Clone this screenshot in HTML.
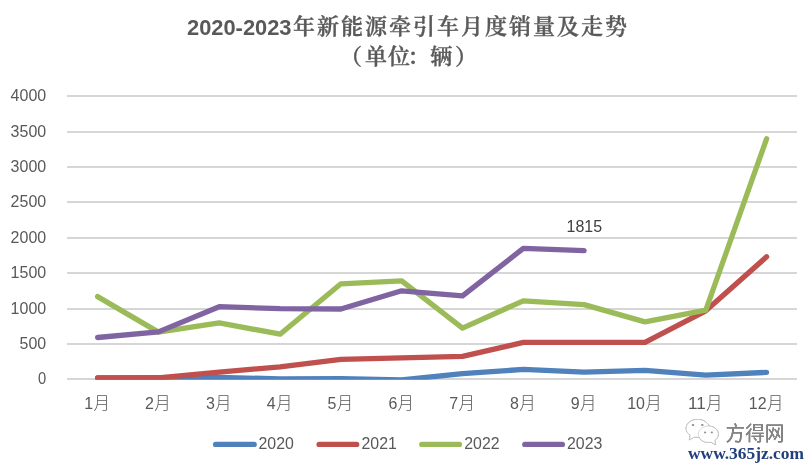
<!DOCTYPE html>
<html lang="zh"><head><meta charset="utf-8"><title>2020-2023年新能源牵引车月度销量及走势</title>
<style>
html,body{margin:0;padding:0;background:#fff;}
body{width:811px;height:469px;overflow:hidden;}
svg{display:block}
text{font-family:"Liberation Sans","Noto Sans CJK SC",sans-serif;fill:#595959}
.ax{font-size:15.7px}
.cj{font-family:"Liberation Sans","Noto Sans CJK SC",sans-serif;font-size:16.5px;font-weight:300}
.tl{font-family:"Liberation Sans",sans-serif;font-weight:bold;font-size:21.5px}
.tc{font-family:"Liberation Serif","Noto Serif CJK SC",serif;font-weight:600;font-size:22px;letter-spacing:2px;stroke:#595959;stroke-width:0.35px}
</style></head><body>
<svg width="811" height="469" viewBox="0 0 811 469">
<rect width="811" height="469" fill="#fff"/>
<text class="tl" x="187" y="34.8" textLength="104.5" lengthAdjust="spacingAndGlyphs">2020-2023</text>
<text class="tc" x="293" y="34">年新能源牵引车月度销量及走势</text>
<text class="tc" y="63.6" x="340 365 388 407.5 430.3 455">（单位：辆）</text>
<rect x="67" y="378" width="730" height="2" fill="#D6D6D6"/>
<text class="ax" x="38.0" y="384.2" textLength="8.2" lengthAdjust="spacingAndGlyphs">0</text>
<rect x="67" y="343" width="730" height="2" fill="#D6D6D6"/>
<text class="ax" x="19.6" y="349.2" textLength="26.6" lengthAdjust="spacingAndGlyphs">500</text>
<rect x="67" y="308" width="730" height="2" fill="#D6D6D6"/>
<text class="ax" x="10.6" y="314.2" textLength="35.6" lengthAdjust="spacingAndGlyphs">1000</text>
<rect x="67" y="272" width="730" height="2" fill="#D6D6D6"/>
<text class="ax" x="10.6" y="278.2" textLength="35.6" lengthAdjust="spacingAndGlyphs">1500</text>
<rect x="67" y="237" width="730" height="2" fill="#D6D6D6"/>
<text class="ax" x="10.6" y="243.2" textLength="35.6" lengthAdjust="spacingAndGlyphs">2000</text>
<rect x="67" y="201" width="730" height="2" fill="#D6D6D6"/>
<text class="ax" x="10.6" y="207.2" textLength="35.6" lengthAdjust="spacingAndGlyphs">2500</text>
<rect x="67" y="166" width="730" height="2" fill="#D6D6D6"/>
<text class="ax" x="10.6" y="172.2" textLength="35.6" lengthAdjust="spacingAndGlyphs">3000</text>
<rect x="67" y="131" width="730" height="2" fill="#D6D6D6"/>
<text class="ax" x="10.6" y="137.2" textLength="35.6" lengthAdjust="spacingAndGlyphs">3500</text>
<rect x="67" y="95" width="730" height="2" fill="#D6D6D6"/>
<text class="ax" x="10.6" y="101.2" textLength="35.6" lengthAdjust="spacingAndGlyphs">4000</text>
<clipPath id="pc"><rect x="0" y="0" width="811" height="379.8"/></clipPath><g clip-path="url(#pc)">
<polyline points="97.6,377.9 158.4,377.7 219.2,377.4 280.1,378.9 340.9,378.7 401.7,379.9 462.5,373.7 523.3,369.4 584.1,372.1 645.0,370.4 705.8,375.2 766.6,372.4" fill="none" stroke="#4F81BD" stroke-width="5.3" stroke-linecap="round" stroke-linejoin="round"/>
<polyline points="97.6,377.9 158.4,377.9 219.2,372.1 280.1,366.9 340.9,359.4 401.7,357.8 462.5,356.4 523.3,342.4 584.1,342.4 645.0,342.4 705.8,310.8 766.6,256.8" fill="none" stroke="#C0504D" stroke-width="5.3" stroke-linecap="round" stroke-linejoin="round"/>
<polyline points="97.6,296.6 158.4,332.1 219.2,322.8 280.1,334.2 340.9,283.8 401.7,280.8 462.5,328.1 523.3,300.8 584.1,304.6 645.0,321.9 705.8,310.1 766.6,138.8" fill="none" stroke="#9BBB59" stroke-width="5.3" stroke-linecap="round" stroke-linejoin="round"/>
<polyline points="97.6,337.5 158.4,331.9 219.2,306.7 280.1,308.7 340.9,309.0 401.7,290.8 462.5,295.9 523.3,248.4 584.1,250.7" fill="none" stroke="#8064A2" stroke-width="5.3" stroke-linecap="round" stroke-linejoin="round"/>
</g>
<text class="ax" x="566.5" y="231.9" textLength="35.6" lengthAdjust="spacingAndGlyphs" style="fill:#404040">1815</text>
<text class="ax" x="84.3" y="408.7"><tspan textLength="8.9" lengthAdjust="spacingAndGlyphs">1</tspan><tspan class="cj" dx="0.3">月</tspan></text>
<text class="ax" x="145.1" y="408.7"><tspan textLength="8.9" lengthAdjust="spacingAndGlyphs">2</tspan><tspan class="cj" dx="0.3">月</tspan></text>
<text class="ax" x="205.9" y="408.7"><tspan textLength="8.9" lengthAdjust="spacingAndGlyphs">3</tspan><tspan class="cj" dx="0.3">月</tspan></text>
<text class="ax" x="266.8" y="408.7"><tspan textLength="8.9" lengthAdjust="spacingAndGlyphs">4</tspan><tspan class="cj" dx="0.3">月</tspan></text>
<text class="ax" x="327.6" y="408.7"><tspan textLength="8.9" lengthAdjust="spacingAndGlyphs">5</tspan><tspan class="cj" dx="0.3">月</tspan></text>
<text class="ax" x="388.4" y="408.7"><tspan textLength="8.9" lengthAdjust="spacingAndGlyphs">6</tspan><tspan class="cj" dx="0.3">月</tspan></text>
<text class="ax" x="449.2" y="408.7"><tspan textLength="8.9" lengthAdjust="spacingAndGlyphs">7</tspan><tspan class="cj" dx="0.3">月</tspan></text>
<text class="ax" x="510.0" y="408.7"><tspan textLength="8.9" lengthAdjust="spacingAndGlyphs">8</tspan><tspan class="cj" dx="0.3">月</tspan></text>
<text class="ax" x="570.8" y="408.7"><tspan textLength="8.9" lengthAdjust="spacingAndGlyphs">9</tspan><tspan class="cj" dx="0.3">月</tspan></text>
<text class="ax" x="627.2" y="408.7"><tspan textLength="17.8" lengthAdjust="spacingAndGlyphs">10</tspan><tspan class="cj" dx="0.3">月</tspan></text>
<text class="ax" x="688.0" y="408.7"><tspan textLength="17.8" lengthAdjust="spacingAndGlyphs">11</tspan><tspan class="cj" dx="0.3">月</tspan></text>
<text class="ax" x="748.8" y="408.7"><tspan textLength="17.8" lengthAdjust="spacingAndGlyphs">12</tspan><tspan class="cj" dx="0.3">月</tspan></text>
<line x1="215.6" x2="254.20000000000002" y1="444.45" y2="444.45" stroke="#4F81BD" stroke-width="5.3" stroke-linecap="round"/>
<text class="ax" x="258.5" y="449.1" textLength="35.4" lengthAdjust="spacingAndGlyphs">2020</text>
<line x1="319.1" x2="356.7" y1="444.45" y2="444.45" stroke="#C0504D" stroke-width="5.3" stroke-linecap="round"/>
<text class="ax" x="361.5" y="449.1" textLength="35.4" lengthAdjust="spacingAndGlyphs">2021</text>
<line x1="421.8" x2="459.4" y1="444.45" y2="444.45" stroke="#9BBB59" stroke-width="5.3" stroke-linecap="round"/>
<text class="ax" x="464.2" y="449.1" textLength="35.4" lengthAdjust="spacingAndGlyphs">2022</text>
<line x1="524.8000000000001" x2="562.4" y1="444.45" y2="444.45" stroke="#8064A2" stroke-width="5.3" stroke-linecap="round"/>
<text class="ax" x="567" y="449.1" textLength="35.4" lengthAdjust="spacingAndGlyphs">2023</text>
<g id="wm">
<g style="filter:drop-shadow(0.7px 0.7px 0.3px #777)" fill="#fff" stroke="#cfcfcf" stroke-width="0.8" stroke-linejoin="round">
<path d="M694.7,436.9 L689.3,439.8 L690.24,435.12 A11.6,8.9 0 1 1 694.7,436.9 Z"/>
<path d="M714.73,440.48 L715.8,444.8 L710.89,442.12 A10,8.2 0 1 1 714.73,440.48 Z"/>
</g>
<g fill="#8d8d8d">
<ellipse cx="693" cy="424.9" rx="1.3" ry="1"/><ellipse cx="702.3" cy="424.9" rx="1.3" ry="1"/>
<ellipse cx="705.1" cy="432.4" rx="1.1" ry="0.9"/><ellipse cx="711.8" cy="432.4" rx="1.1" ry="0.9"/>
</g>
<text x="725.5" y="441" style="font-family:'Liberation Sans','Noto Sans CJK SC',sans-serif;font-size:20px;fill:#858585;filter:drop-shadow(0.6px 0.6px 0.2px #555)" textLength="59" lengthAdjust="spacingAndGlyphs">方得网</text>
<text x="688" y="459" style="font-family:'Liberation Serif',serif;font-weight:bold;font-size:16.5px;fill:#23407e" textLength="116" lengthAdjust="spacingAndGlyphs">www.365jz.com</text>
</g>
</svg></body></html>
